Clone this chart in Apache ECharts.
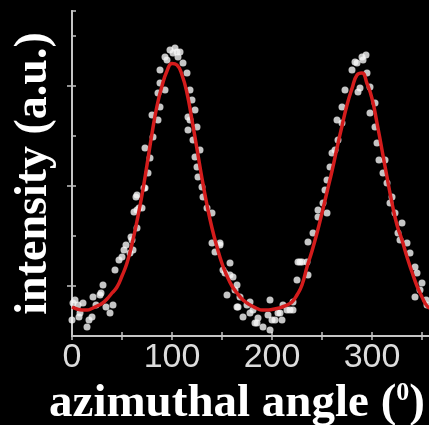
<!DOCTYPE html>
<html>
<head>
<meta charset="utf-8">
<script src="https://cdn.jsdelivr.net/npm/echarts@6/dist/echarts.min.js"></script>
<style>
html,body{margin:0;padding:0;background:#000;}
#chart{width:429px;height:425px;}
</style>
</head>
<body>
<div id="chart"></div>
<script>
// Measured data points (angle in degrees, intensity in arbitrary units)
const dataAngles = [0,1,3,6,7,8,11,15,17,20,21,24,28,29,31,34,38,41,43,47,50,52,54,58,59,60,61,62,64,65,65,65,67,70,72,73,
  76,73,78,81,80,86,88,86,93,93,88,88,95,98,101,103,105,106,108,111,116,116,
  115,118,120,118,123,125,121,123,125,126,128,130,131,135,
  140,140,148,148,143,158,153,151,158,161,155,165,168,165,163,166,171,175,178,181,178,183,185,186,191,196,198,198,200,203,206,208,210,211,215,218,221,225,226,
  221,228,230,235,236,236,241,246,246,253,255,251,
  255,258,260,263,266,270,265,270,273,280,283,285,288,290,291,294,295,286,298,303,298,303,305,307,311,313,315,320,
  318,323,330,326,328,335,338,343,345,343,348,350,354,355];
const dataValues = [0.32,0.66,0.72,0.62,0.38,0.46,0.66,0.18,0.32,0.38,0.78,0.62,0.82,0.86,1.02,0.58,0.46,0.62,1.32,1.52,1.58,1.72,1.82,1.66,1.98,1.92,1.72,2.48,2.78,2.16,2.52,2.82,2.56,2.56,2.96,2.96,
  3.26,3.76,3.56,3.98,4.42,4.32,4.58,4.86,4.92,5.58,5.06,5.32,5.52,5.72,5.66,5.76,5.68,5.58,5.68,5.46,4.38,4.12,
  5.26,4.92,4.72,4.32,4.52,4.18,3.92,3.58,3.38,3.18,3.72,2.98,2.78,2.56,
  2.46,1.86,1.82,1.86,1.68,1.46,1.26,1.32,1.22,1.18,0.82,1.02,0.78,0.58,0.92,0.58,0.38,0.62,0.46,0.52,0.68,0.26,0.26,0.36,0.18,0.42,0.72,0.12,0.32,0.32,0.46,0.46,0.32,0.62,0.52,0.52,0.68,1.12,1.48,
  0.52,1.48,1.48,1.48,1.22,1.88,2.06,2.38,2.52,2.92,2.46,2.66,
  3.12,3.38,3.66,3.72,3.92,4.26,4.32,4.58,4.92,5.32,5.48,5.46,4.96,5.58,5.52,5.62,5.26,4.88,4.98,4.66,4.46,4.18,3.86,3.52,3.26,3.52,3.06,2.78,
  2.66,2.46,2.26,2.06,1.92,1.86,1.66,1.38,1.26,0.78,0.92,1.06,0.72,0.62];

// Fitted curve
const fitAngles = [0,5,10,15,20,25,30,35,40,45,50,55,60,65,70,75,80,85,90,95,100,105,110,115,120,125,130,135,140,145,150,155,160,165,170,175,180,185,190,195,200,205,210,215,220,225,230,235,240,245,250,255,260,265,270,275,280,285,290,295,300,305,310,315,320,325,330,335,340,345,350,355,360];
const fitValues = [0.58,0.54,0.52,0.52,0.55,0.6,0.65,0.74,0.86,0.98,1.2,1.46,1.84,2.3,2.82,3.42,4.05,4.6,5.0,5.3,5.45,5.42,5.22,4.86,4.32,3.74,3.15,2.62,2.16,1.78,1.45,1.2,1.0,0.86,0.74,0.66,0.6,0.55,0.52,0.52,0.53,0.55,0.58,0.62,0.68,0.82,1.02,1.38,1.7,2.06,2.46,2.88,3.3,3.76,4.2,4.62,4.95,5.22,5.26,5.05,4.75,4.26,3.72,3.18,2.66,2.22,1.92,1.58,1.28,1.0,0.78,0.6,0.54];

const xTickLabels = [0, 100, 200, 300];
const xTitle = 'azimuthal angle';
const yTitle = 'intensity (a.u.)';

const axisColor = '#c4c4c4';
const chart = echarts.init(document.getElementById('chart'));
const scatterData = dataAngles.map((a, i) => [a, dataValues[i]]);
const fitData = fitAngles.map((a, i) => [a, fitValues[i]]);

chart.setOption({
  backgroundColor: '#000',
  animation: false,
  grid: {left: 72, right: -3, top: 11, bottom: 89, containLabel: false, outerBoundsMode: 'none'},
  xAxis: [{
    type: 'value', min: 0, max: 360, interval: 50, position: 'bottom',
    axisLine: {show: true, lineStyle: {color: axisColor, width: 2}},
    axisTick: {show: true, inside: true, length: 4, lineStyle: {color: axisColor, width: 1.5}},
    splitLine: {show: false},
    axisLabel: {
      color: '#dcdcdc', fontSize: 34, fontFamily: 'Liberation Sans', margin: 5,
      showMaxLabel: false,
      formatter: v => xTickLabels.includes(v) ? String(v) : ''
    },
    name: xTitle + ' ({sup|0})',
    nameLocation: 'middle', nameGap: 37,
    nameTextStyle: {
      color: '#fff', fontSize: 47, fontWeight: 'bold', fontFamily: 'Liberation Serif',
      padding: [0, 30, 0, 0],
      rich: {sup: {color: '#fff', fontSize: 26, fontWeight: 'bold', fontFamily: 'Liberation Serif', verticalAlign: 'top', padding: [0,0,16,0]}}
    }
  }, {
    type: 'value', min: 0, max: 360, interval: 50, position: 'top',
    axisLine: {show: true, lineStyle: {color: axisColor, width: 2}},
    axisTick: {show: true, inside: true, length: 4, lineStyle: {color: axisColor, width: 1.5}},
    axisLabel: {show: false}, splitLine: {show: false}
  }],
  yAxis: [{
    type: 'value', min: 0, max: 6.5, interval: 1, position: 'left',
    axisLine: {show: true, lineStyle: {color: axisColor, width: 2}},
    axisTick: {show: true, inside: true, length: 4, lineStyle: {color: axisColor, width: 1.5}},
    axisLabel: {show: false}, splitLine: {show: false},
    name: yTitle, nameLocation: 'middle', nameGap: 15, nameRotate: 90,
    nameTextStyle: {color: '#fff', fontSize: 46, fontWeight: 'bold', fontFamily: 'Liberation Serif'}
  }, {
    type: 'value', min: 0, max: 6.5, interval: 1, position: 'right',
    axisLine: {show: true, lineStyle: {color: axisColor, width: 2}},
    axisTick: {show: true, inside: true, length: 5, customValues: [1, 3, 5], lineStyle: {color: axisColor, width: 1.5}},
    axisLabel: {show: false}, splitLine: {show: false}
  }],
  series: [{
    type: 'scatter', data: scatterData, symbolSize: 7, z: 2,
    itemStyle: {color: '#f6f6f6'}
  }, {
    type: 'line', data: fitData, smooth: true, showSymbol: false, z: 3,
    lineStyle: {color: '#d41c1c', width: 3.5}
  }]
});
</script>
</body>
</html>
